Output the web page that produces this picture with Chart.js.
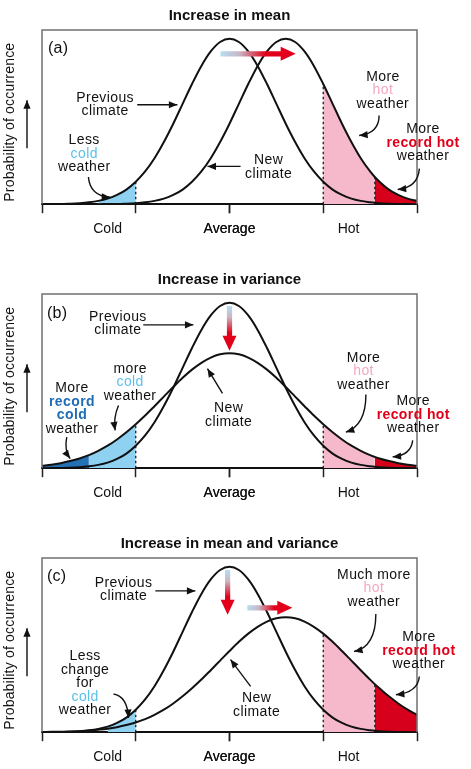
<!DOCTYPE html>
<html>
<head>
<meta charset="utf-8">
<title>Increase in mean and variance</title>
<script src="https://cdn.jsdelivr.net/npm/chart.js@4.4.1/dist/chart.umd.min.js"></script>
<style>
  html, body { margin: 0; background: #fff; overflow: hidden; }
  .wrap { position: relative; width: 471px; height: 769px; overflow: hidden; }
  canvas { position: absolute; left: 0; }
</style>
</head>
<body>
<div class="wrap">
  <canvas id="panelA" width="471" height="246" style="top:0"></canvas>
  <canvas id="panelB" width="471" height="246" style="top:264px"></canvas>
  <canvas id="panelC" width="471" height="246" style="top:528px"></canvas>
</div>
<script>
// x runs 0..4 across every panel (Average at 2), y is relative probability
const xs = [0, 0.1, 0.2, 0.3, 0.4, 0.5, 0.6, 0.7, 0.8, 0.9,
            1, 1.1, 1.2, 1.3, 1.4, 1.5, 1.6, 1.7, 1.8, 1.9,
            2, 2.1, 2.2, 2.3, 2.4, 2.5, 2.6, 2.7, 2.8, 2.9,
            3, 3.1, 3.2, 3.3, 3.4, 3.5, 3.55, 3.6, 3.7, 3.8, 3.9, 4];

const prevClimate = [0, 0.001, 0.001, 0.003, 0.006, 0.011, 0.019, 0.032, 0.053, 0.084,
                     0.129, 0.188, 0.264, 0.357, 0.462, 0.576, 0.690, 0.794, 0.877, 0.931,
                     0.950, 0.931, 0.877, 0.794, 0.690, 0.576, 0.462, 0.357, 0.264, 0.188,
                     0.129, 0.084, 0.053, 0.032, 0.019, 0.011, 0.008, 0.006, 0.003, 0.001, 0.001, 0];

// (a) shifted to the right
const newMean = [0, 0, 0, 0, 0, 0, 0, 0.001, 0.001, 0.003,
                 0.006, 0.011, 0.019, 0.032, 0.053, 0.084, 0.129, 0.188, 0.264, 0.357,
                 0.462, 0.576, 0.690, 0.794, 0.877, 0.931, 0.950, 0.931, 0.877, 0.794,
                 0.690, 0.576, 0.462, 0.357, 0.264, 0.188, 0.156, 0.129, 0.084, 0.053, 0.032, 0.019];

// (b) flatter and wider
const newVariance = [0.014, 0.020, 0.029, 0.041, 0.056, 0.075, 0.100, 0.129, 0.165, 0.206,
                     0.252, 0.302, 0.356, 0.411, 0.466, 0.519, 0.566, 0.605, 0.635, 0.654,
                     0.660, 0.654, 0.635, 0.605, 0.566, 0.519, 0.466, 0.411, 0.356, 0.302,
                     0.252, 0.206, 0.165, 0.129, 0.100, 0.075, 0.065, 0.056, 0.041, 0.029, 0.020, 0.014];

// (c) shifted and wider
const newMeanVariance = [0.001, 0.002, 0.003, 0.004, 0.006, 0.009, 0.014, 0.020, 0.029, 0.041,
                         0.056, 0.075, 0.100, 0.129, 0.165, 0.206, 0.252, 0.302, 0.356, 0.411,
                         0.466, 0.519, 0.566, 0.605, 0.635, 0.654, 0.660, 0.654, 0.635, 0.605,
                         0.566, 0.519, 0.466, 0.411, 0.356, 0.302, 0.276, 0.252, 0.206, 0.165, 0.129, 0.100];

const tickMarks = [0, 1, 2, 3, 4];
const tickLabelPos = [0.7, 2, 3.27];
const tickLabels = ['Cold', 'Average', 'Hot'];

const FONT = '"Liberation Sans", Arial, Helvetica, sans-serif';
const FILL = { lb: '#8fd1f1', pk: '#f5b9cb', rd: '#d6001c', db: '#2471b5' };
const INK = { lb: '#5cbfea', pk: '#f3a8c2', rd: '#e1001a', db: '#1f6db5' };

function points(ys) { return xs.map((x, i) => ({ x: x, y: ys[i] })); }
function slice(ys, a, b) { return points(ys).filter(p => p.x >= a - 1e-6 && p.x <= b + 1e-6); }
function valueAt(ys, x) { return ys[xs.findIndex(v => Math.abs(v - x) < 1e-6)]; }

function head(ctx, x, y, ang) {
    ctx.save();
    ctx.translate(x, y);
    ctx.rotate(ang);
    ctx.beginPath();
    ctx.moveTo(0, 0);
    ctx.lineTo(-8.5, -3.6);
    ctx.lineTo(-8.5, 3.6);
    ctx.closePath();
    ctx.fill();
    ctx.restore();
}

function arrow(ctx, x1, y1, x2, y2) {
    ctx.beginPath();
    ctx.moveTo(x1, y1);
    ctx.lineTo(x2, y2);
    ctx.stroke();
    head(ctx, x2, y2, Math.atan2(y2 - y1, x2 - x1));
}

function curvedArrow(ctx, x1, y1, cx, cy, x2, y2) {
    ctx.beginPath();
    ctx.moveTo(x1, y1);
    ctx.quadraticCurveTo(cx, cy, x2, y2);
    ctx.stroke();
    head(ctx, x2, y2, Math.atan2(y2 - cy, x2 - cx));
}

// fat shaded arrow, light blue fading into red
function gradArrow(ctx, x1, y1, x2, y2) {
    const len = Math.hypot(x2 - x1, y2 - y1);
    ctx.save();
    ctx.translate(x1, y1);
    ctx.rotate(Math.atan2(y2 - y1, x2 - x1));
    const g = ctx.createLinearGradient(0, 0, len, 0);
    g.addColorStop(0, '#b5def3');
    g.addColorStop(0.25, '#c9b7c4');
    g.addColorStop(0.6, '#e2001a');
    g.addColorStop(1, '#e2001a');
    ctx.fillStyle = g;
    ctx.beginPath();
    ctx.moveTo(0, -2.6);
    ctx.lineTo(len - 15, -2.6);
    ctx.lineTo(len - 15, -7);
    ctx.lineTo(len, 0);
    ctx.lineTo(len - 15, 7);
    ctx.lineTo(len - 15, 2.6);
    ctx.lineTo(0, 2.6);
    ctx.closePath();
    ctx.fill();
    ctx.restore();
}

function notes(p) {
    return {
        id: 'notes' + p.letter,
        afterDraw(chart) {
            const { ctx, chartArea: area, scales } = chart;
            const X = v => scales.x.getPixelForValue(v);
            const Y = v => scales.y.getPixelForValue(v);
            ctx.save();

            // box round the plot
            ctx.strokeStyle = '#707070';
            ctx.lineWidth = 1.5;
            ctx.beginPath();
            ctx.moveTo(area.left, area.bottom);
            ctx.lineTo(area.left, area.top);
            ctx.lineTo(area.right, area.top);
            ctx.lineTo(area.right, area.bottom);
            ctx.stroke();

            // y title and arrow
            ctx.fillStyle = '#111';
            ctx.strokeStyle = '#111';
            ctx.lineWidth = 1.4;
            ctx.letterSpacing = '0.2px';
            ctx.font = '14px ' + FONT;
            ctx.textAlign = 'center';
            ctx.textBaseline = 'middle';
            ctx.save();
            ctx.translate(10, area.bottom - 82);
            ctx.rotate(-Math.PI / 2);
            ctx.fillText('Probability of occurrence', 0, 0);
            ctx.restore();
            arrow(ctx, 27, area.bottom - 56, 27, area.bottom - 104);

            ctx.font = '16px ' + FONT;
            ctx.textAlign = 'left';
            ctx.fillText('(' + p.letter + ')', X(p.tag[0]), Y(p.tag[1]));

            ctx.textAlign = 'center';
            ctx.letterSpacing = '0.4px';
            p.texts.forEach(t => {
                t.lines.forEach((line, i) => {
                    const style = line[1];
                    const bold = style === 'rd' || style === 'db';
                    ctx.font = (bold ? 'bold ' : '') + '14px ' + FONT;
                    ctx.fillStyle = style ? INK[style] : '#111';
                    ctx.fillText(line[0], X(t.x), Y(t.y) + i * 13.5);
                });
            });
            ctx.letterSpacing = '0px';

            ctx.fillStyle = '#111';
            p.arrows.forEach(a => {
                if (a.via) {
                    curvedArrow(ctx, X(a.from[0]), Y(a.from[1]), X(a.via[0]), Y(a.via[1]), X(a.to[0]), Y(a.to[1]));
                } else {
                    arrow(ctx, X(a.from[0]), Y(a.from[1]), X(a.to[0]), Y(a.to[1]));
                }
            });

            p.grads.forEach(a => gradArrow(ctx, X(a.from[0]), Y(a.from[1]), X(a.to[0]), Y(a.to[1])));
            ctx.restore();
        }
    };
}

function drawPanel(canvasId, p) {
    const curves = { prev: prevClimate, new: p.newCurve };
    const datasets = [];

    p.fills.forEach(f => datasets.push({
        data: slice(curves[f.curve], f.from, f.to),
        backgroundColor: FILL[f.color],
        borderWidth: 0,
        fill: 'origin',
        order: 3
    }));

    p.dashes.forEach(d => datasets.push({
        data: [{ x: d.x, y: 0 }, { x: d.x, y: valueAt(curves[d.curve], d.x) }],
        borderColor: '#1a1a1a',
        borderWidth: 1.3,
        borderDash: [2.5, 2.5],
        cubicInterpolationMode: 'default',
        tension: 0,
        fill: false,
        order: 2
    }));

    [prevClimate, p.newCurve].forEach(ys => datasets.push({
        data: points(ys),
        borderColor: '#111',
        borderWidth: 2,
        fill: false,
        order: 1
    }));

    new Chart(document.getElementById(canvasId), {
        type: 'line',
        data: { datasets: datasets },
        options: {
            responsive: false,
            animation: false,
            events: [],
            elements: {
                point: { radius: 0 },
                line: { cubicInterpolationMode: 'monotone' }
            },
            layout: { padding: { left: 42, right: 54, bottom: 0 } },
            scales: {
                x: {
                    type: 'linear',
                    min: 0,
                    max: 4,
                    afterBuildTicks: axis => {
                        axis.ticks = tickMarks.concat(tickLabelPos)
                            .sort((a, b) => a - b)
                            .map(v => ({ value: v }));
                    },
                    ticks: {
                        autoSkip: false,
                        maxRotation: 0,
                        padding: 8,
                        color: '#111',
                        font: { family: FONT, size: 14 },
                        callback: value => {
                            const i = tickLabelPos.indexOf(value);
                            return i >= 0 ? tickLabels[i] : '';
                        }
                    },
                    grid: {
                        drawOnChartArea: false,
                        tickLength: 9,
                        tickWidth: 1.5,
                        tickColor: c => tickMarks.includes(c.tick.value) ? '#222' : 'rgba(0,0,0,0)'
                    },
                    border: { color: '#111', width: 2 }
                },
                y: { display: false, min: 0, max: 1 }
            },
            plugins: {
                legend: { display: false },
                tooltip: { enabled: false },
                title: {
                    display: true,
                    text: p.title,
                    color: '#111',
                    font: { family: FONT, size: 15, weight: 'bold' },
                    padding: { top: 7, bottom: 5 }
                }
            }
        },
        plugins: [notes(p)]
    });
}

drawPanel('panelA', {
    letter: 'a',
    title: 'Increase in mean',
    newCurve: newMean,
    fills: [
        { from: 0.6, to: 1, curve: 'prev', color: 'lb' },
        { from: 3, to: 3.55, curve: 'new', color: 'pk' },
        { from: 3.55, to: 4, curve: 'new', color: 'rd' }
    ],
    dashes: [{ x: 1, curve: 'prev' }, { x: 3, curve: 'new' }, { x: 3.55, curve: 'new' }],
    tag: [0.064, 0.891],
    texts: [
        { x: 0.674, y: 0.611, lines: [['Previous'], ['climate']] },
        { x: 0.45, y: 0.366, lines: [['Less'], ['cold', 'lb'], ['weather']] },
        { x: 2.417, y: 0.251, lines: [['New'], ['climate']] },
        { x: 3.636, y: 0.731, lines: [['More'], ['hot', 'pk'], ['weather']] },
        { x: 4.064, y: 0.429, lines: [['More'], ['record hot', 'rd'], ['weather']] }
    ],
    arrows: [
        { from: [1.016, 0.571], to: [1.444, 0.571] },
        { from: [2.118, 0.217], to: [1.765, 0.217] },
        { from: [0.495, 0.156], via: [0.513, 0.046], to: [0.727, 0.04] },
        { from: [3.596, 0.509], via: [3.594, 0.406], to: [3.383, 0.394] },
        { from: [4.025, 0.204], via: [4.011, 0.097], to: [3.794, 0.084] }
    ],
    grads: [{ from: [1.904, 0.863], to: [2.706, 0.863] }]
});

drawPanel('panelB', {
    letter: 'b',
    title: 'Increase in variance',
    newCurve: newVariance,
    fills: [
        { from: 0, to: 0.5, curve: 'new', color: 'db' },
        { from: 0.5, to: 1, curve: 'new', color: 'lb' },
        { from: 3, to: 3.55, curve: 'new', color: 'pk' },
        { from: 3.55, to: 4, curve: 'new', color: 'rd' }
    ],
    dashes: [{ x: 1, curve: 'new' }, { x: 3, curve: 'new' }],
    tag: [0.054, 0.886],
    texts: [
        { x: 0.81, y: 0.869, lines: [['Previous'], ['climate']] },
        { x: 0.94, y: 0.571, lines: [['more'], ['cold', 'lb'], ['weather']] },
        { x: 0.32, y: 0.457, lines: [['More'], ['record', 'db'], ['cold', 'db'], ['weather']] },
        { x: 1.99, y: 0.343, lines: [['New'], ['climate']] },
        { x: 3.43, y: 0.634, lines: [['More'], ['hot', 'pk'], ['weather']] },
        { x: 3.96, y: 0.383, lines: [['More'], ['record hot', 'rd'], ['weather']] }
    ],
    arrows: [
        { from: [1.08, 0.823], to: [1.615, 0.823] },
        { from: [0.816, 0.36], via: [0.76, 0.29], to: [0.78, 0.217] },
        { from: [0.264, 0.179], via: [0.235, 0.103], to: [0.3, 0.055] },
        { from: [1.925, 0.429], to: [1.765, 0.571] },
        { from: [3.455, 0.423], via: [3.455, 0.246], to: [3.241, 0.207] },
        { from: [3.954, 0.16], via: [3.936, 0.074], to: [3.74, 0.065] }
    ],
    grads: [{ from: [2, 0.931], to: [2, 0.674] }]
});

drawPanel('panelC', {
    letter: 'c',
    title: 'Increase in mean and variance',
    newCurve: newMeanVariance,
    fills: [
        { from: 0.7, to: 1, curve: 'prev', color: 'lb' },
        { from: 3, to: 3.55, curve: 'new', color: 'pk' },
        { from: 3.55, to: 4, curve: 'new', color: 'rd' }
    ],
    dashes: [{ x: 1, curve: 'prev' }, { x: 3, curve: 'new' }, { x: 3.55, curve: 'new' }],
    tag: [0.054, 0.891],
    texts: [
        { x: 0.87, y: 0.857, lines: [['Previous'], ['climate']] },
        { x: 0.46, y: 0.434, lines: [['Less'], ['change'], ['for'], ['cold', 'lb'], ['weather']] },
        { x: 2.29, y: 0.194, lines: [['New'], ['climate']] },
        { x: 3.54, y: 0.903, lines: [['Much more'], ['hot', 'pk'], ['weather']] },
        { x: 4.02, y: 0.543, lines: [['More'], ['record hot', 'rd'], ['weather']] }
    ],
    arrows: [
        { from: [1.209, 0.811], to: [1.636, 0.811] },
        { from: [0.763, 0.219], via: [0.909, 0.206], to: [0.923, 0.082] },
        { from: [2.225, 0.263], to: [2.011, 0.417] },
        { from: [3.561, 0.679], via: [3.561, 0.491], to: [3.329, 0.463] },
        { from: [4.025, 0.32], via: [4.011, 0.229], to: [3.775, 0.215] }
    ],
    grads: [{ from: [1.98, 0.931], to: [1.98, 0.674] }, { from: [2.19, 0.714], to: [2.67, 0.714] }]
});
</script>
</body>
</html>
